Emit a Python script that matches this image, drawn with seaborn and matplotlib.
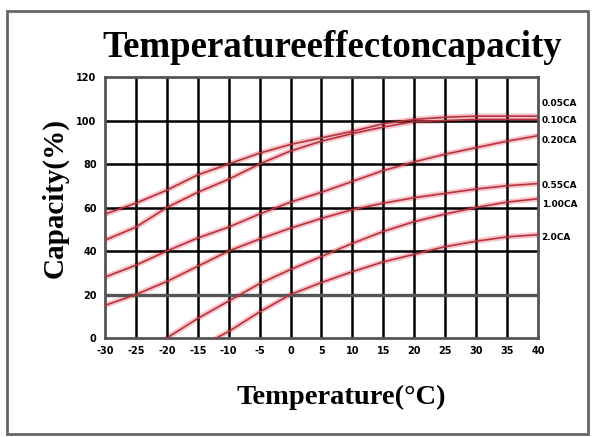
import pandas as pd
import matplotlib
matplotlib.use('Agg')
import matplotlib.pyplot as plt
import seaborn as sns

# capacity (%), one list per discharge rate
temps = [-30, -25, -20, -15, -10, -5, 0, 5, 10, 15, 20, 25, 30, 35, 40]
cap_005 = [57, 62, 68, 75, 80, 85, 89, 92, 95, 98.5, 100.5, 101.5, 102, 102, 102]
cap_010 = [45, 51, 60, 67, 73, 80, 86, 90.5, 94, 97, 99.5, 100, 100.5, 100.5, 100.5]
cap_020 = [28, 33.5, 40, 46, 51, 57, 62.5, 67, 72, 77, 81, 84.5, 87.5, 90.5, 93]
cap_055 = [15, 20, 26, 33, 40, 45.5, 50.5, 55, 59, 62, 64.5, 66.5, 68.5, 70, 71]
temps_100 = [-20, -15, -10, -5, 0, 5, 10, 15, 20, 25, 30, 35, 40]
cap_100 = [0, 9, 17, 25, 31.5, 37.5, 43.5, 49, 53.5, 57, 60, 62.5, 64]
temps_200 = [-12, -10, -5, 0, 5, 10, 15, 20, 25, 30, 35, 40]
cap_200 = [0, 3, 12, 20, 25.5, 30.5, 35, 38.5, 42, 44.5, 46.5, 47.5]

rates = ['0.05CA', '0.10CA', '0.20CA', '0.55CA', '1.00CA', '2.0CA']
label_y = [108, 100, 91, 70, 61.5, 46]

xticks = list(range(-30, 45, 5))
yticks = list(range(0, 140, 20))

frames = []
for name, t, c in [('0.05CA', temps, cap_005), ('0.10CA', temps, cap_010),
                   ('0.20CA', temps, cap_020), ('0.55CA', temps, cap_055),
                   ('1.00CA', temps_100, cap_100), ('2.0CA', temps_200, cap_200)]:
    frames.append(pd.DataFrame({'temp': t, 'cap': c, 'rate': name}))
df = pd.concat(frames, ignore_index=True)

sns.set_style('white')
plt.rcParams['font.family'] = ['DejaVu Sans']
plt.rcParams['text.color'] = 'black'
plt.rcParams['xtick.color'] = 'black'
plt.rcParams['ytick.color'] = 'black'

fig = plt.figure(figsize=(5.95, 4.37), dpi=100)
ax = fig.add_axes([0.1765, 0.2265, 0.7275, 0.5973])

# pink halo under the red curves
sns.lineplot(data=df, x='temp', y='cap', hue='rate', palette=['#f6c4c9'] * 6,
             linewidth=4, legend=False, ax=ax, zorder=1, estimator=None, sort=False)
for x in xticks[1:-1]:
    ax.axvline(x, color='black', lw=1.8, zorder=2)
for y in yticks[1:-1]:
    ax.axhline(y, color='#555555' if y == 20 else 'black', lw=2.4 if y == 20 else 1.8, zorder=2)
sns.lineplot(data=df, x='temp', y='cap', hue='rate', palette=['#b8323e'] * 6,
             linewidth=1.2, legend=False, ax=ax, zorder=3, estimator=None, sort=False)

ax.set_xlim(-30, 40)
ax.set_ylim(0, 120)
ax.set_xticks(xticks)
ax.set_yticks(yticks)
ax.set_xticklabels([str(v) for v in xticks], fontsize=7, fontweight='bold')
ax.set_yticklabels([str(v) for v in yticks], fontsize=7, fontweight='bold')
ax.tick_params(length=0, pad=6)
for s in ax.spines.values():
    s.set_color('#555555')
    s.set_linewidth(2)
ax.set_xlabel('')
ax.set_ylabel('')

for name, y in zip(rates, label_y):
    ax.text(40.6, y, name, fontsize=6.5, fontweight='bold', va='center', ha='left',
            clip_on=False)

fig.text(0.558, 0.892, 'Temperatureeffectoncapacity', family='Liberation Serif',
         fontweight='bold', fontsize=26.5, ha='center', va='center')
fig.text(0.573, 0.0915, 'Temperature(°C)', family='Liberation Serif',
         fontweight='bold', fontsize=20.5, ha='center', va='center')
fig.text(0.092, 0.547, 'Capacity(%)', family='Liberation Serif', fontweight='bold',
         fontsize=21, rotation=90, ha='center', va='center')

fig.patches.append(plt.Rectangle((0.012, 0.007), 0.976, 0.967, transform=fig.transFigure,
                                 fill=False, edgecolor='#666666', lw=2))

fig.savefig('out.png', dpi=100, facecolor='white')
